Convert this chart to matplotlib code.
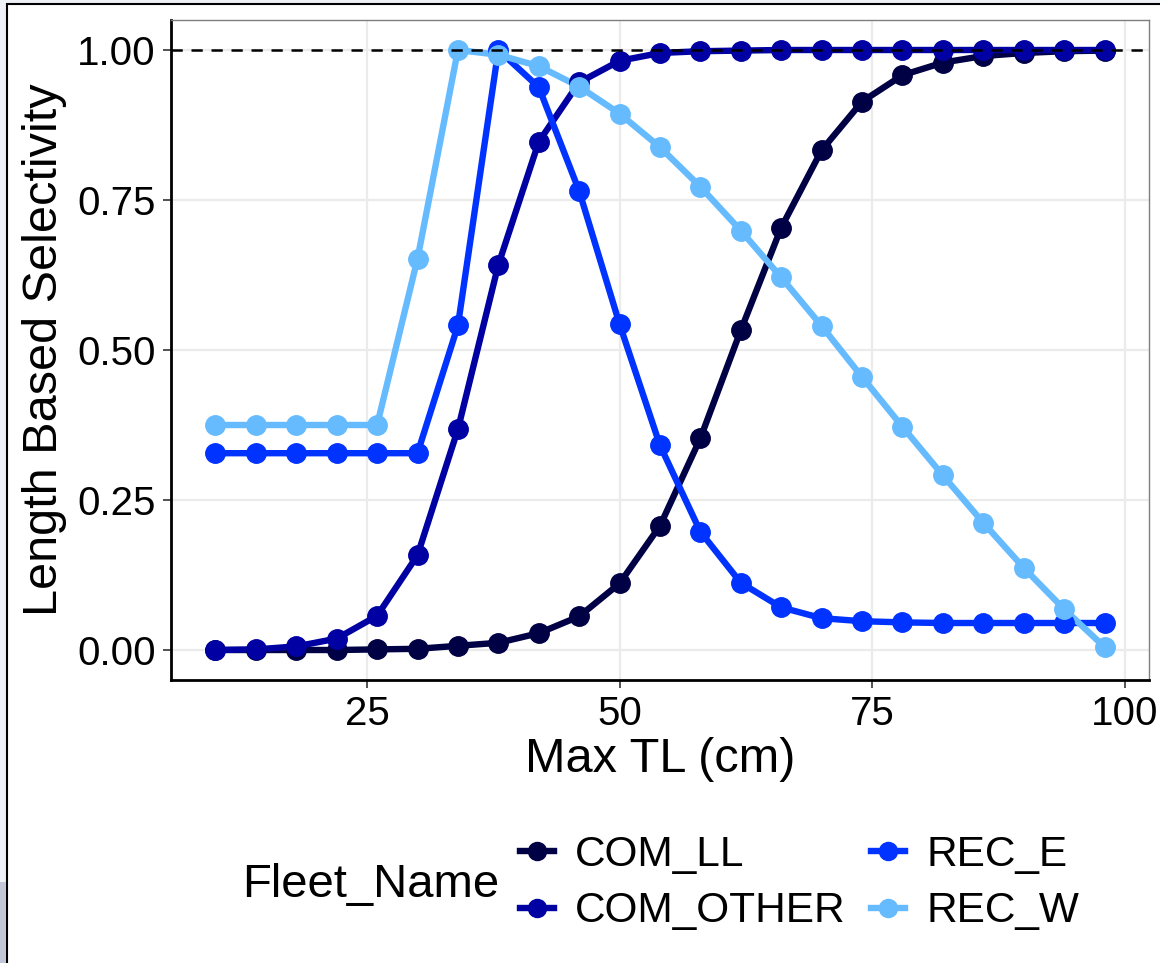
import numpy as np
import matplotlib.pyplot as plt
from matplotlib.patches import Rectangle

plt.rcParams["font.family"] = ["Liberation Sans", "DejaVu Sans"]

# Max total length bins (cm)
max_tl = [10, 14, 18, 22, 26, 30, 34, 38, 42, 46, 50, 54,
          58, 62, 66, 70, 74, 78, 82, 86, 90, 94, 98]

fleet_names = ["COM_LL", "COM_OTHER", "REC_E", "REC_W"]
fleet_colors = ["#000044", "#0000A3", "#0033FF", "#66BBFF"]

sel_com_ll = [0.0, 0.0, 0.0, 0.0, 0.001, 0.002, 0.007, 0.012, 0.028, 0.056,
              0.111, 0.207, 0.353, 0.533, 0.704, 0.833, 0.914, 0.958, 0.979,
              0.990, 0.995, 0.998, 0.999]
sel_com_other = [0.0, 0.001, 0.006, 0.019, 0.057, 0.158, 0.368, 0.642, 0.847,
                 0.946, 0.982, 0.995, 0.998, 0.999, 1.0, 1.0, 1.0, 1.0, 1.0,
                 1.0, 1.0, 1.0, 1.0]
sel_rec_e = [0.328, 0.328, 0.328, 0.328, 0.328, 0.328, 0.541, 1.0, 0.938,
             0.765, 0.543, 0.341, 0.197, 0.112, 0.071, 0.053, 0.048, 0.046,
             0.045, 0.045, 0.045, 0.045, 0.045]
sel_rec_w = [0.375, 0.375, 0.375, 0.375, 0.375, 0.652, 1.0, 0.992, 0.973,
             0.939, 0.894, 0.838, 0.772, 0.699, 0.621, 0.540, 0.455, 0.372,
             0.291, 0.212, 0.137, 0.068, 0.005]

series = [sel_com_ll, sel_com_other, sel_rec_e, sel_rec_w]

W, H = 1160, 963
fig = plt.figure(figsize=(W / 100, H / 100), dpi=100)
fig.patch.set_facecolor("#EEF2F6")

# white page with a thin black frame, plus the grey strip at bottom left
fig.patches.append(Rectangle((7 / W, -0.05), 1.1, 1.05 - 4 / H,
                             transform=fig.transFigure, facecolor="white",
                             edgecolor="black", linewidth=1.5, zorder=-10))
fig.patches.append(Rectangle((0, 0), 6 / W, (963 - 882) / H,
                             transform=fig.transFigure, facecolor="#C2C6D6",
                             edgecolor="none", zorder=-10))

ax = fig.add_axes([171 / W, 1 - 680 / H, (1149 - 171) / W, (680 - 20) / H])

for name, color, vals in zip(fleet_names, fleet_colors, series):
    ax.plot(max_tl, vals, color=color, lw=4.6, solid_capstyle="butt", zorder=2)
for name, color, vals in zip(fleet_names, fleet_colors, series):
    ax.plot(max_tl, vals, ls="", marker="o", ms=14, color=color, zorder=3)

ax.axhline(1.0, color="black", ls=(0, (4.5, 3.5)), lw=1.8, zorder=4)

ax.set_xlim(5.6, 102.4)
ax.set_ylim(-0.05, 1.05)
ax.set_xticks([25, 50, 75, 100])
ax.set_yticks([0, 0.25, 0.5, 0.75, 1.0])
ax.set_yticklabels(["0.00", "0.25", "0.50", "0.75", "1.00"])
ax.grid(True, color="#EBEBEB", lw=1.6)
ax.set_axisbelow(True)

for side in ["top", "right"]:
    ax.spines[side].set_color("#7F7F7F")
    ax.spines[side].set_linewidth(1.0)
for side in ["left", "bottom"]:
    ax.spines[side].set_color("black")
    ax.spines[side].set_linewidth(2.0)

ax.tick_params(axis="both", length=6, width=1.2, color="#333333",
               labelsize=29, labelcolor="black", pad=5)
ax.set_xlabel("Max TL (cm)", fontsize=35, labelpad=3)
ax.set_ylabel("Length Based Selectivity", fontsize=35, labelpad=7)

handles = [plt.Line2D([], [], color=c, lw=4.6, marker="o", ms=13)
           for c in fleet_colors]
fig.text(242 / W, 1 - 885 / H, "Fleet_Name", fontsize=34, va="center", ha="left")
fig.legend(handles, fleet_names, loc="center left",
           bbox_to_anchor=(520 / W, 1 - 883 / H), ncol=2, frameon=False,
           fontsize=30.5, handlelength=0.8, handletextpad=0.5,
           columnspacing=0.6, labelspacing=0.4, borderpad=0, borderaxespad=0)

fig.savefig("out.png", dpi=100)
